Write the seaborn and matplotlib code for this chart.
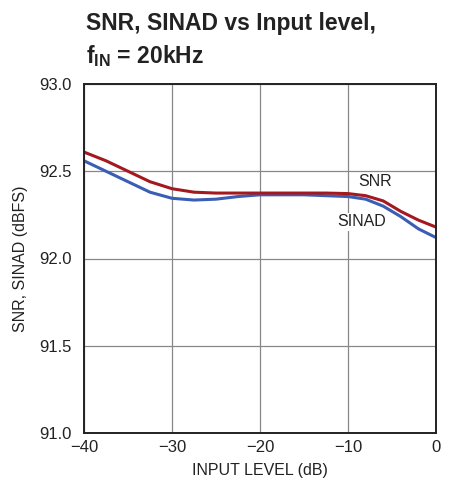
import matplotlib
matplotlib.use("Agg")
import matplotlib.pyplot as plt
import seaborn as sns
import pandas as pd

input_level = [-40, -37.5, -35, -32.5, -30, -27.5, -25, -22.5, -20, -17.5, -15, -12.5, -10, -8, -6, -4, -2, 0]
snr = [92.61, 92.56, 92.50, 92.44, 92.40, 92.38, 92.375, 92.375, 92.375, 92.375, 92.375, 92.375, 92.372, 92.36, 92.33, 92.27, 92.22, 92.18]
sinad = [92.56, 92.50, 92.44, 92.38, 92.345, 92.335, 92.34, 92.355, 92.365, 92.365, 92.365, 92.36, 92.355, 92.34, 92.30, 92.24, 92.17, 92.12]
x_ticks = [-40, -30, -20, -10, 0]
x_tick_labels = ["\u221240", "\u221230", "\u221220", "\u221210", "0"]
y_ticks = [91.0, 91.5, 92.0, 92.5, 93.0]

sns.set_style("white")
fam = ["Liberation Sans Narrow", "Liberation Sans", "DejaVu Sans"]
plt.rcParams["font.family"] = fam
plt.rcParams["mathtext.fontset"] = "custom"
plt.rcParams["mathtext.rm"] = "Liberation Sans"
plt.rcParams["mathtext.bf"] = "Liberation Sans:bold"

df = pd.DataFrame({"x": input_level * 2,
                   "y": snr + sinad,
                   "series": ["SNR"] * len(snr) + ["SINAD"] * len(sinad)})

fig = plt.figure(figsize=(4.5, 4.87), dpi=100)
ax = fig.add_axes([84/450, 1-433/487, (436-84)/450, (433-84)/487])
sns.lineplot(data=df, x="x", y="y", hue="series", ax=ax,
             palette={"SNR": "#a3191f", "SINAD": "#3a5db5"}, linewidth=2.2,
             legend=False, hue_order=["SINAD", "SNR"])
ax.set_xlim(-40, 0)
ax.set_ylim(91.0, 93.0)
ax.set_xticks(x_ticks)
ax.set_xticklabels(x_tick_labels)
ax.set_yticks(y_ticks)
ax.set_yticklabels([f"{v:.1f}" for v in y_ticks])
ax.tick_params(axis="both", length=0, labelsize=12, colors="#222222")
ax.tick_params(axis="y", pad=9)
ax.tick_params(axis="x", pad=5)
ax.grid(True, color="#888888", linewidth=0.9)
for s in ax.spines.values():
    s.set_color("#222222")
    s.set_linewidth(1.4)
ax.set_xlabel("INPUT LEVEL (dB)", fontsize=11.5, labelpad=6, color="#222222")
ax.set_ylabel("SNR, SINAD (dBFS)", fontsize=11.5, labelpad=8, color="#222222")
ax.text(-8.8, 92.44, "SNR", fontsize=11.5, color="#222222", ha="left", va="center",
        bbox=dict(facecolor="white", edgecolor="none", pad=1))
ax.text(-11.2, 92.21, "SINAD", fontsize=11.5, color="#222222", ha="left", va="center",
        bbox=dict(facecolor="white", edgecolor="none", pad=1))
fig.text(86/450, 1-12/487, "SNR, SINAD vs Input level,",
         fontsize=16.5, fontweight="bold", ha="left", va="top", color="#222222")
fig.text(86/450, 1-43/487, "$\\mathbf{f_{IN}}$ = 20kHz",
         fontsize=16.5, fontweight="bold", ha="left", va="top", color="#222222")
fig.savefig("out.png", dpi=100)
